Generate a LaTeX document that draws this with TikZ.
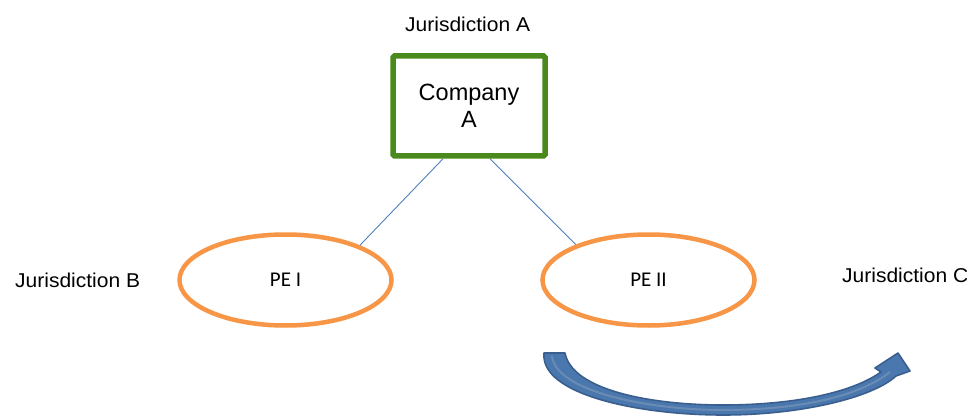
\documentclass[tikz,border=0pt]{standalone}
\usepackage{fontspec}
\setmainfont{Liberation Sans}
\newfontfamily\calibri{Carlito}
\usetikzlibrary{shapes.geometric}
\definecolor{boxgreen}{HTML}{4A8A1C}
\definecolor{peorange}{HTML}{F79646}
\definecolor{linkblue}{HTML}{4F81BD}
\definecolor{arrowfill}{HTML}{4A78AE}
\definecolor{arrowedge}{HTML}{3A5F8E}
\newcommand{\jurtext}[1]{\scalebox{1.05}[1]{\fontsize{20}{24}\selectfont #1}}
\tikzset{
  jurlabel/.style={inner sep=0pt, anchor=base west},
  company/.style={draw=boxgreen, line width=5.5pt, rounded corners=1.5pt,
    minimum width=152pt, minimum height=100pt, inner sep=0pt, align=center,
    font=\fontsize{23.5}{28}\selectfont},
  pe/.style={ellipse, draw=peorange, line width=4.5pt, minimum width=212pt,
    minimum height=91pt, inner sep=0pt, font=\calibri\fontsize{21}{24}\selectfont},
  link/.style={draw=linkblue, line width=0.9pt}
}
\begin{document}
\begin{tikzpicture}[x=1pt,y=-1pt]
\useasboundingbox (0,0) rectangle (967,417);
\fill[white] (0,0) rectangle (967,417);

% jurisdiction labels
\node[jurlabel] (jurA) at (405,32) {\jurtext{Jurisdiction A}};
\node[jurlabel] (jurB) at (15,287) {\jurtext{Jurisdiction B}};
\node[jurlabel] (jurC) at (842,282) {\jurtext{Jurisdiction C}};

% head office and permanent establishments
\node[company] (comp) at (469,106) {Company\\[-1pt]A};
\node[pe] (pe1) at (285.5,280) {PE I};
\node[pe] (pe2) at (648.5,280) {PE II};

% links
\draw[link] ([xshift=-26pt]comp.south) -- (pe1.25);
\draw[link] ([xshift=21pt]comp.south) -- (pe2.154);

% curved transfer arrow
\filldraw[fill=arrowfill, draw=arrowedge, line width=1.6pt, line join=round]
  (544,353) .. controls (540,395) and (640,415) .. (723,415)
  .. controls (800,415) and (872,398) .. (896,376)
  -- (910,371) -- (898,353) -- (875,368) -- (881,372)
  .. controls (850,394) and (790,405) .. (723,405)
  .. controls (650,405) and (572,390) .. (565,353) -- cycle;
\draw[arrowedge!60!white, line width=2pt, opacity=0.5]
  (552,356) .. controls (556,392) and (650,410) .. (723,410)
  .. controls (800,410) and (860,396) .. (890,372);
\end{tikzpicture}
\end{document}
